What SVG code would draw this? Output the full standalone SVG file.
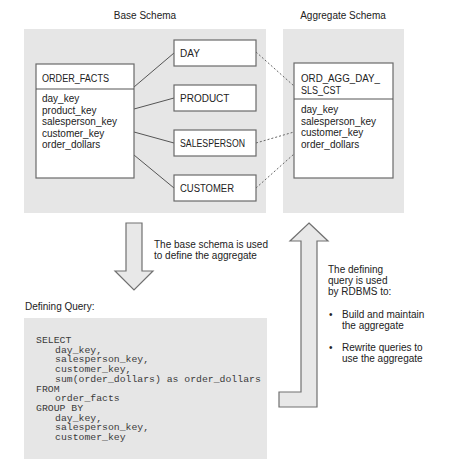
<svg xmlns="http://www.w3.org/2000/svg" width="474" height="462" viewBox="0 0 474 462">
<style>
text{font-family:"Liberation Sans",Arial,sans-serif;font-size:10px;fill:#222}
.panel{fill:#e6e6e6;stroke:none}
.box{fill:#fff;stroke:#6a6a6a;stroke-width:1.2}
.line{stroke:#555;stroke-width:1;fill:none}
.dash{stroke:#666;stroke-width:1;fill:none;stroke-dasharray:2,2}
.arrow{fill:#e8e8e8;stroke:#707070;stroke-width:1.2}
.mono{font-family:"Liberation Mono","Courier New",monospace;font-size:9.8px;fill:#3a3a3a}
</style>
<rect x="0" y="0" width="474" height="462" fill="#fff"/>
<g id="base-panel">
<rect class="panel" x="24" y="29" width="242" height="184"/>
<text x="145" y="19" text-anchor="middle">Base Schema</text>
</g>
<g id="agg-panel">
<rect class="panel" x="283" y="29" width="121" height="184"/>
<text x="343" y="19" text-anchor="middle">Aggregate Schema</text>
</g>
<g id="connectors">
<line class="line" x1="134" y1="87" x2="174" y2="53"/>
<line class="line" x1="134" y1="109" x2="174" y2="98"/>
<line class="line" x1="134" y1="132" x2="174" y2="143"/>
<line class="line" x1="134" y1="155" x2="174" y2="188"/>
<line class="dash" x1="256" y1="52" x2="294" y2="86"/>
<line class="dash" x1="256" y1="143" x2="294" y2="132"/>
<line class="dash" x1="256" y1="188" x2="294" y2="154"/>
</g>
<g id="order-facts">
<rect class="box" x="36" y="64" width="98" height="114"/>
<line class="line" x1="36" y1="89" x2="134" y2="89"/>
<text x="42" y="82" textLength="67" lengthAdjust="spacingAndGlyphs">ORDER_FACTS</text>
<text x="42" y="102">day_key</text>
<text x="42" y="113.5">product_key</text>
<text x="42" y="125">salesperson_key</text>
<text x="42" y="136.5">customer_key</text>
<text x="42" y="148">order_dollars</text>
</g>
<g id="day">
<rect class="box" x="174" y="40" width="82" height="26"/>
<text x="180" y="57">DAY</text>
</g>
<g id="product">
<rect class="box" x="174" y="85" width="82" height="26"/>
<text x="180" y="102">PRODUCT</text>
</g>
<g id="salesperson">
<rect class="box" x="174" y="130" width="82" height="26"/>
<text x="180" y="147" textLength="65" lengthAdjust="spacingAndGlyphs">SALESPERSON</text>
</g>
<g id="customer">
<rect class="box" x="174" y="175" width="82" height="26"/>
<text x="180" y="192" textLength="54" lengthAdjust="spacingAndGlyphs">CUSTOMER</text>
</g>
<g id="ord-agg">
<rect class="box" x="294" y="63" width="99" height="115"/>
<line class="line" x1="294" y1="99" x2="393" y2="99"/>
<text x="301" y="82" textLength="79" lengthAdjust="spacingAndGlyphs">ORD_AGG_DAY_</text>
<text x="301" y="93.5" textLength="40" lengthAdjust="spacingAndGlyphs">SLS_CST</text>
<text x="301" y="113">day_key</text>
<text x="301" y="124.5">salesperson_key</text>
<text x="301" y="136">customer_key</text>
<text x="301" y="147.5">order_dollars</text>
</g>
<g id="down-arrow">
<polygon class="arrow" points="126,223 142,223 142,271 153,271 134,290 115,271 126,271"/>
<text x="154" y="248">The base schema is used</text>
<text x="154" y="259">to define the aggregate</text>
</g>
<g id="up-arrow">
<polygon class="arrow" points="309,223 328,241 317,241 317,407 279,407 279,392 301,392 301,241 290,241"/>
<text x="328" y="273">The defining</text>
<text x="328" y="284">query is used</text>
<text x="328" y="295">by RDBMS to:</text>
<text x="329" y="318">•</text>
<text x="342" y="318">Build and maintain</text>
<text x="342" y="329">the aggregate</text>
<text x="329" y="351">•</text>
<text x="342" y="351">Rewrite queries to</text>
<text x="342" y="362">use the aggregate</text>
</g>
<g id="query">
<text x="25" y="310">Defining Query:</text>
<rect class="panel" x="24" y="318" width="243" height="141"/>
<text class="mono" x="36" y="343">SELECT</text>
<text class="mono" x="55" y="352.7">day_key,</text>
<text class="mono" x="55" y="362.4">salesperson_key,</text>
<text class="mono" x="55" y="372.1">customer_key,</text>
<text class="mono" x="55" y="381.8">sum(order_dollars) as order_dollars</text>
<text class="mono" x="36" y="391.5">FROM</text>
<text class="mono" x="55" y="401.2">order_facts</text>
<text class="mono" x="36" y="410.9">GROUP BY</text>
<text class="mono" x="55" y="420.6">day_key,</text>
<text class="mono" x="55" y="430.3">salesperson_key,</text>
<text class="mono" x="55" y="440">customer_key</text>
</g>
</svg>
